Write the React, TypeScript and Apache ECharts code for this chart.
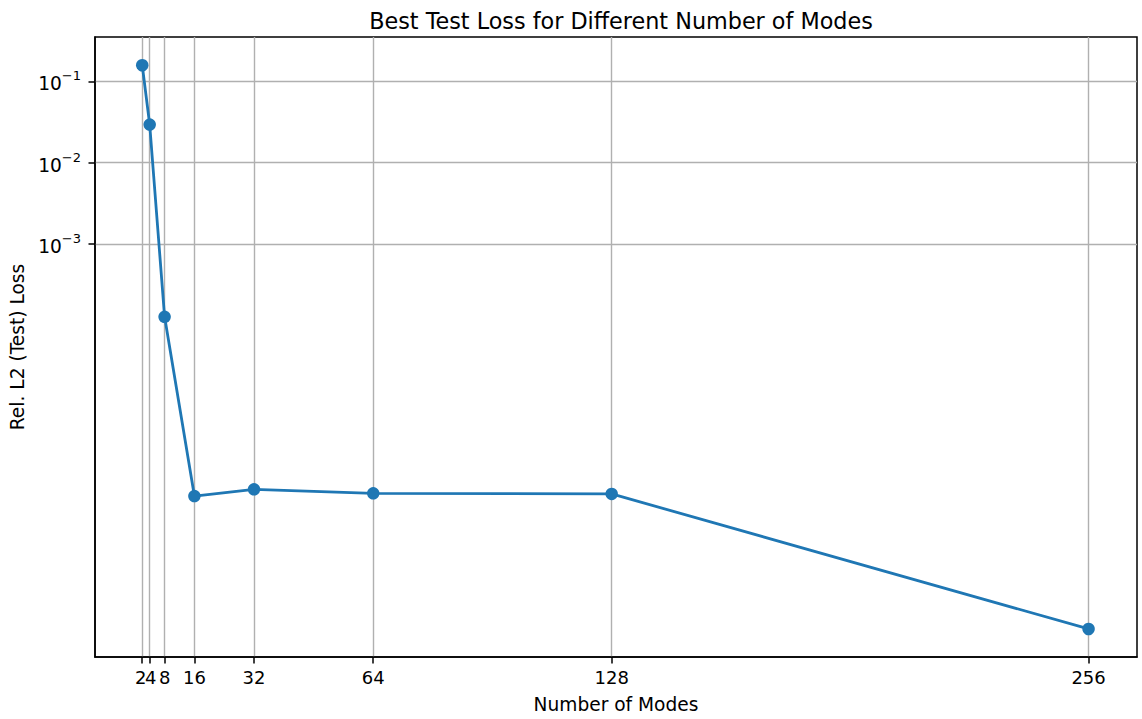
import React, { useEffect, useRef } from "react";
import * as echarts from "echarts";

const modes = [2, 4, 8, 16, 32, 64, 128, 256];
const bestLoss = [0.158, 0.0294, 1.27e-4, 7.93e-7, 9.6e-7, 8.57e-7, 8.44e-7, 1.84e-8];
const xTicks = [2, 4, 8, 16, 32, 64, 128, 256];
const yTicks = [0.1, 0.01, 0.001];

const FONT = "DejaVu Sans";
const X_MIN = -10.68;
const X_MAX = 269.0;
const TICK_FONT = 18;

export default function App() {
  const ref = useRef<HTMLDivElement>(null);
  useEffect(() => {
    if (!ref.current) return;
    const chart = echarts.init(ref.current, null, { renderer: "svg" });
    const sup: Record<string, string> = { "-1": "−1", "-2": "−2", "-3": "−3" };
    // split the tick labels over two stacked axes so the tightly packed labels (2, 4, 8) all stay visible
    const labelsA = xTicks.filter((_, i) => i % 2 === 1);
    const labelsB = xTicks.filter((_, i) => i % 2 === 0);
    const tickText = { fontFamily: FONT, fontSize: TICK_FONT, color: "#000" };
    const labelStyle = {
      margin: 11,
      ...tickText,
      showMinLabel: true,
      showMaxLabel: true,
      hideOverlap: false,
      formatter: (v: number) => {
        if (v === 2) return "{l|" + v + "}";
        if (v === 4) return "{r|" + v + "}";
        return "{n|" + v + "}";
      },
      rich: {
        n: { ...tickText },
        l: { ...tickText, padding: [0, 3, 0, 0] },
        r: { ...tickText, padding: [0, 0, 0, 2] },
      },
    };
    chart.setOption({
      animation: false,
      backgroundColor: "#ffffff",
      title: {
        text: "Best Test Loss for Different Number of Modes",
        left: 616,
        top: 5,
        textAlign: "center",
        textStyle: { fontFamily: FONT, fontSize: 22.3, fontWeight: "normal", color: "#000" },
      },
      grid: {
        left: 95,
        right: 5,
        top: 37,
        bottom: 61,
        show: true,
        borderColor: "#000",
        borderWidth: 1.5,
      },
      xAxis: [
        {
          type: "value",
          min: X_MIN,
          max: X_MAX,
          position: "bottom",
          name: "Number of Modes",
          nameLocation: "middle",
          nameGap: 38,
          nameTextStyle: { fontFamily: FONT, fontSize: 18.6, color: "#000" },
          axisLine: { show: true, onZero: false, lineStyle: { color: "#000", width: 1.5 } },
          axisTick: { show: true, length: 6.5, customValues: xTicks, lineStyle: { color: "#000", width: 1.5 } },
          axisLabel: { ...labelStyle, customValues: labelsA },
          splitLine: { show: true, lineStyle: { color: "#b0b0b0", width: 1.4 } },
        },
        {
          type: "value",
          min: X_MIN,
          max: X_MAX,
          position: "bottom",
          offset: 0,
          axisLine: { show: false, onZero: false },
          axisTick: { show: false, customValues: labelsB },
          axisLabel: { ...labelStyle, customValues: labelsB },
          splitLine: { show: false },
        },
      ],
      yAxis: {
        type: "log",
        logBase: 10,
        min: Math.pow(10, -8.08),
        max: Math.pow(10, -0.454),
        name: "Rel. L2 (Test) Loss",
        nameLocation: "middle",
        nameGap: 68,
        nameTextStyle: { fontFamily: FONT, fontSize: 18.6, color: "#000" },
        axisLine: { show: true, onZero: false, lineStyle: { color: "#000", width: 1.5 } },
        axisTick: { show: true, length: 6.5, customValues: yTicks, lineStyle: { color: "#000", width: 1.5 } },
        axisLabel: {
          customValues: yTicks,
          margin: 14,
          color: "#000",
          showMinLabel: true,
          showMaxLabel: true,
          formatter: (v: number) => {
            const e = Math.round(Math.log10(v));
            return "{b|10}{s|" + (sup[String(e)] || String(e)) + "}";
          },
          rich: {
            b: { fontFamily: FONT, fontSize: 18.6, color: "#000", lineHeight: 24, verticalAlign: "bottom" },
            s: { fontFamily: FONT, fontSize: 13, color: "#000", lineHeight: 24, verticalAlign: "top" },
          },
        },
        splitLine: { show: true, lineStyle: { color: "#b0b0b0", width: 1.4 } },
      },
      series: [
        {
          type: "line",
          xAxisIndex: 0,
          data: modes.map((m, i) => [m, bestLoss[i]]),
          symbol: "circle",
          symbolSize: 12.5,
          color: "#1f77b4",
          lineStyle: { width: 2.8, color: "#1f77b4" },
          itemStyle: { color: "#1f77b4" },
        },
      ],
    });
    return () => chart.dispose();
  }, []);
  return (
    <div
      ref={ref}
      style={{ position: "absolute", left: 0, top: 0, width: 1142, height: 719 }}
    />
  );
}
